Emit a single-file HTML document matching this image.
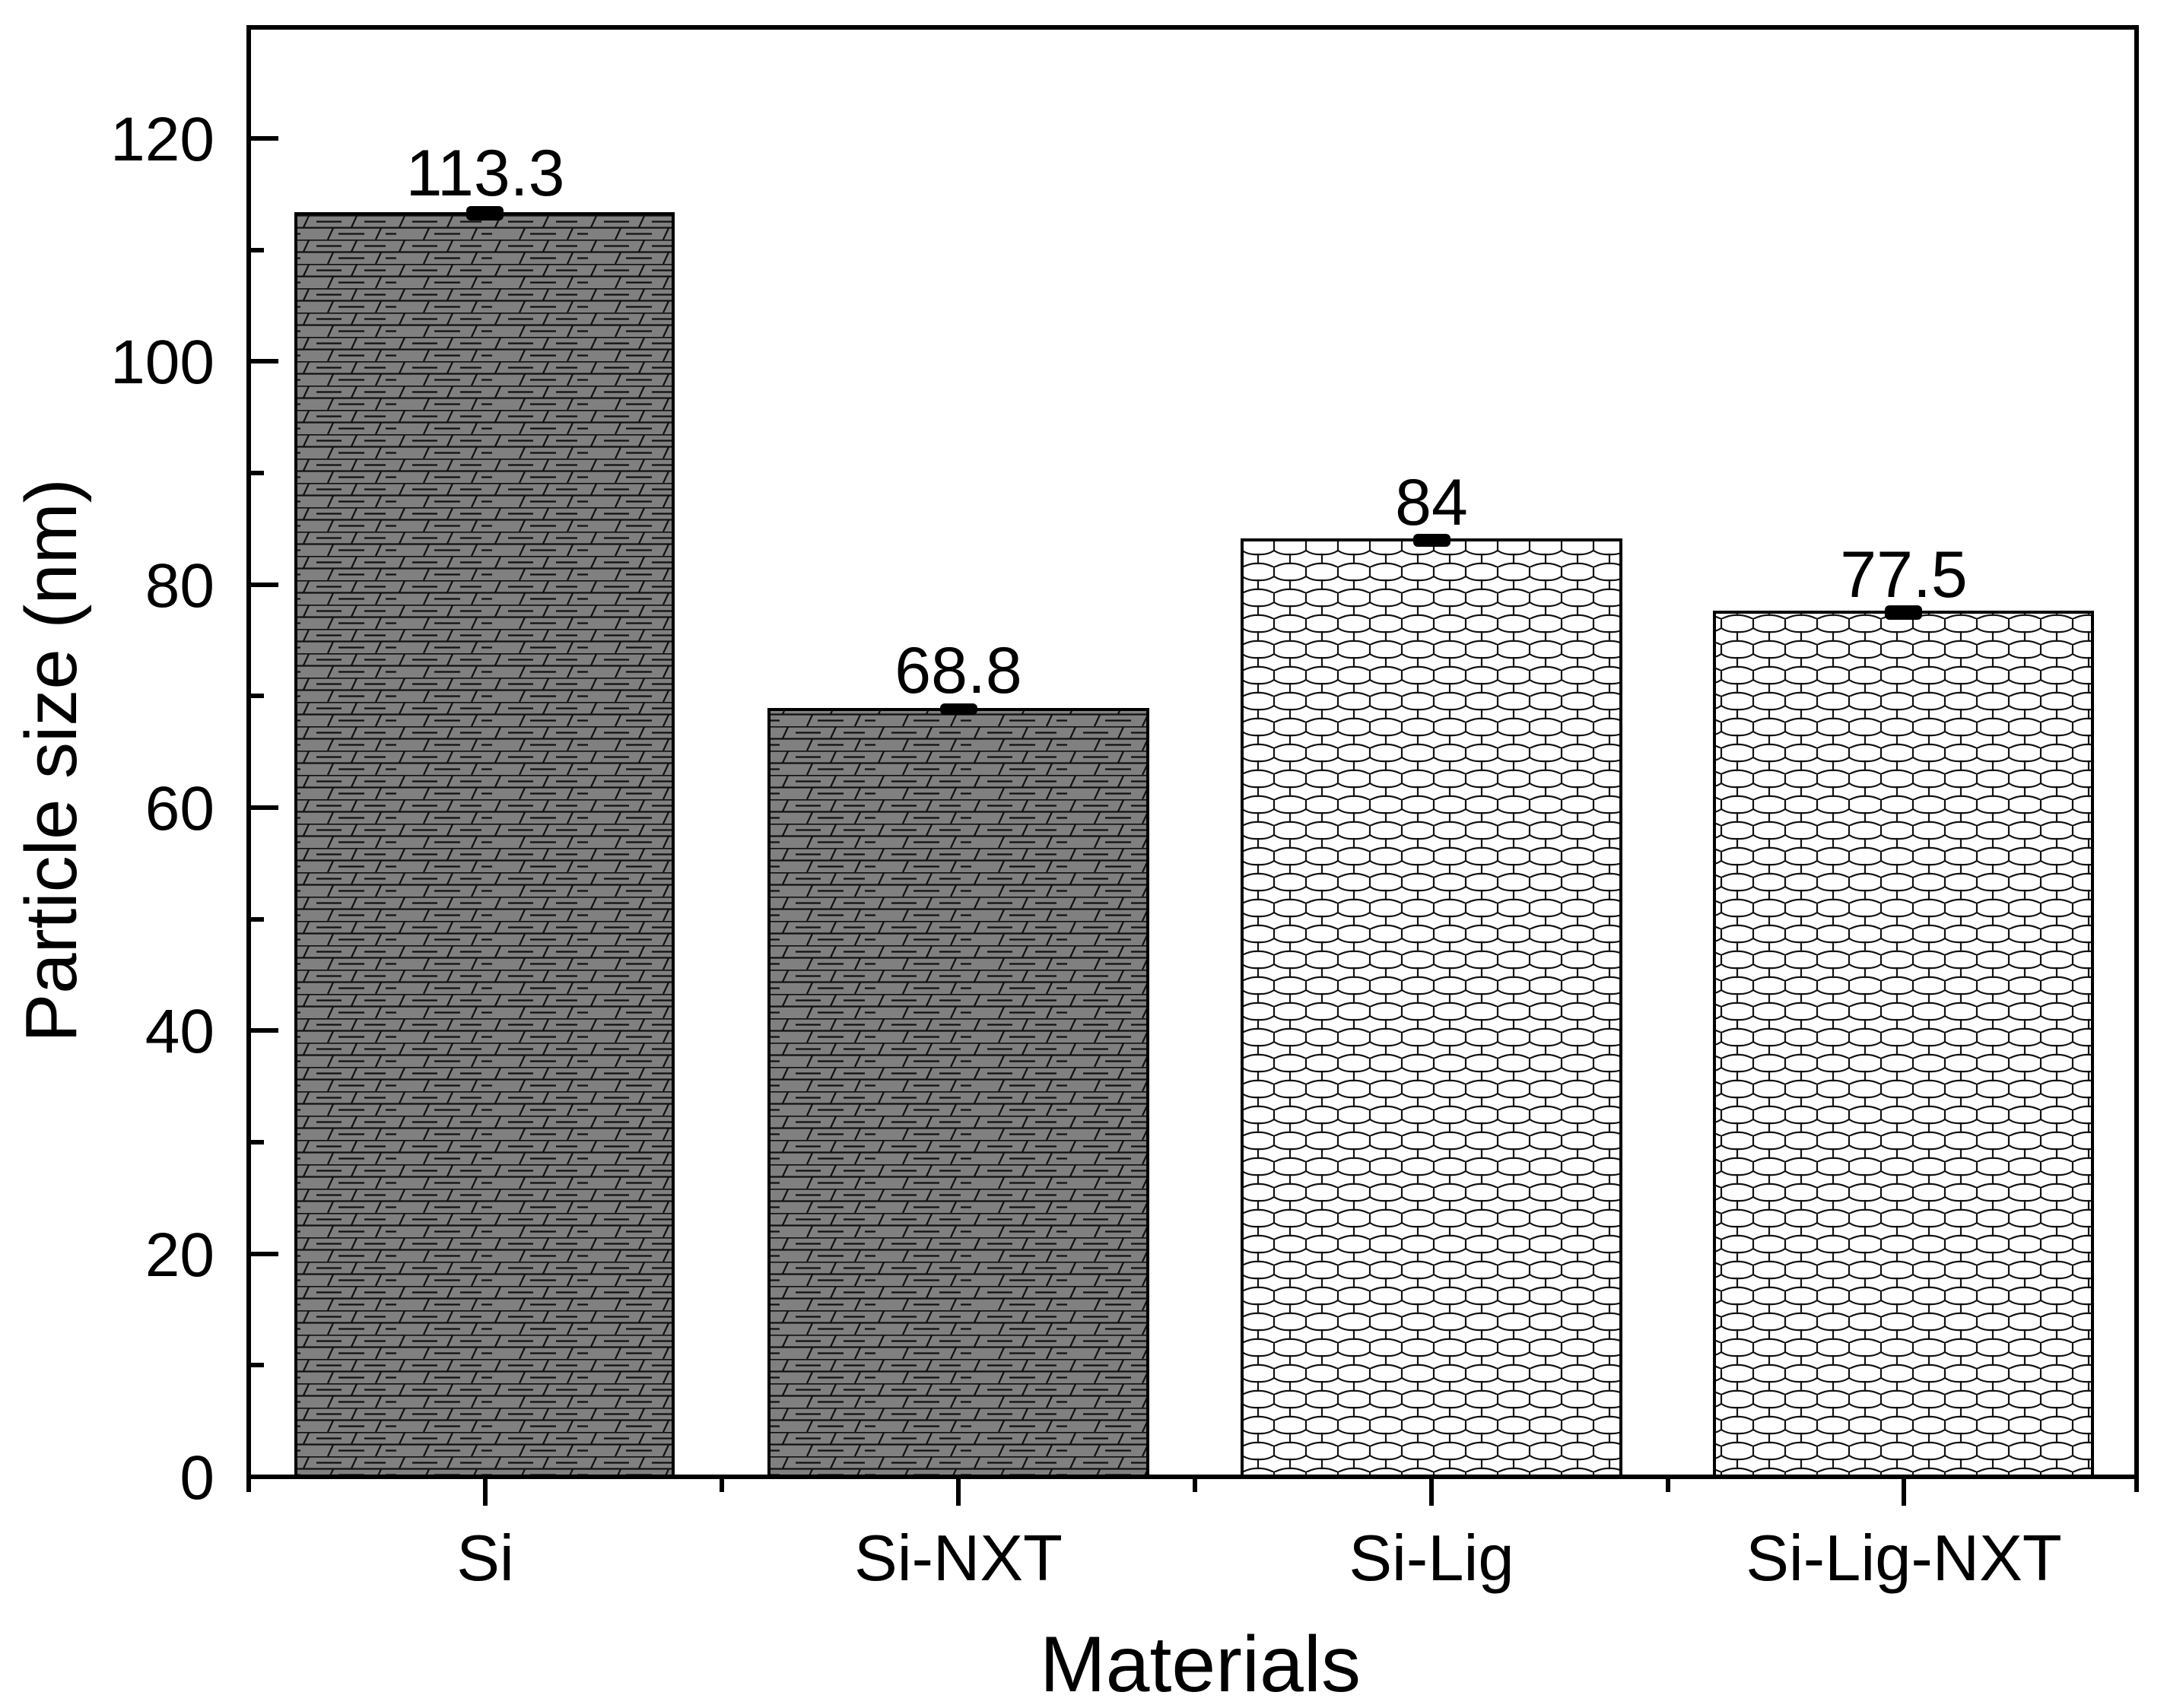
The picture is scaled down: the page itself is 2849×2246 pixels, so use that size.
<!DOCTYPE html>
<html><head><meta charset="utf-8"><style>
html,body{margin:0;padding:0;background:#fff}
svg{display:block}
text{font-family:"Liberation Sans",Arial,sans-serif;fill:#000}
</style></head><body>
<svg width="2849" height="2246" viewBox="0 0 2849 2246" xmlns="http://www.w3.org/2000/svg">
<defs>
<pattern id="brick" patternUnits="userSpaceOnUse" width="126" height="32" x="389" y="283">
<rect width="126" height="32" fill="#808080"/>
<g stroke="#111" stroke-width="2.2" fill="none">
<path d="M0,0.5H126M0,16.5H126"/>
<path d="M10,16 L17,1 M73,16 L80,1 M42,32 L49,17 M105,32 L112,17"/>
<path d="M27,8.5H60 M90,8.5H118 M56,24.5H90 M0,24.5H6 M118,24.5H126"/>
</g>
</pattern>
<pattern id="hex" patternUnits="userSpaceOnUse" width="42" height="34" x="1633" y="712">
<rect width="42" height="34" fill="#fff"/>
<g stroke="#111" stroke-width="2.2" fill="none">
<path d="M0,0V12 M42,0V12 M0,12 Q9,18 21,17 Q33,18 42,12 M21,17V29 M21,29 Q12,28 0,34 M21,29 Q30,28 42,34"/>
</g>
</pattern>
</defs>

<!-- bars -->
<rect x="389" y="281" width="496" height="1661" fill="url(#brick)" stroke="#000" stroke-width="4"/>
<rect x="1011" y="933" width="498" height="1009" fill="url(#brick)" stroke="#000" stroke-width="4"/>
<rect x="1633" y="710" width="498" height="1232" fill="url(#hex)" stroke="#000" stroke-width="4"/>
<rect x="2254" y="805" width="497" height="1137" fill="url(#hex)" stroke="#000" stroke-width="4"/>

<!-- error bars -->
<rect x="613" y="271" width="49" height="19" rx="6" fill="#000"/>
<rect x="1236" y="925" width="49" height="15" rx="6" fill="#000"/>
<rect x="1858" y="702" width="49" height="17" rx="6" fill="#000"/>
<rect x="2478" y="796" width="49" height="19" rx="6" fill="#000"/>

<!-- value labels -->
<g font-size="86" text-anchor="middle">
<text x="638" y="257">113.3</text>
<text x="1260" y="911">68.8</text>
<text x="1882" y="690">84</text>
<text x="2503" y="785">77.5</text>
</g>

<!-- frame -->
<rect x="327" y="36" width="2482" height="1906" fill="none" stroke="#000" stroke-width="6"/>

<g stroke="#000" stroke-width="6">
<path d="M327,1942H366 M327,1649H366 M327,1355H366 M327,1062H366 M327,769H366 M327,475H366 M327,182H366"/>
<path d="M327,1795H347 M327,1502H347 M327,1209H347 M327,915H347 M327,622H347 M327,329H347 M327,36H347"/>
<path d="M638,1942V1980 M1260,1942V1980 M1882,1942V1980 M2503,1942V1980"/>
<path d="M327,1942V1962 M949,1942V1962 M1571,1942V1962 M2193,1942V1962 M2809,1942V1962"/>
</g>

<g font-size="82" text-anchor="end">
<text x="282" y="1971">0</text>
<text x="282" y="1678">20</text>
<text x="282" y="1384">40</text>
<text x="282" y="1091">60</text>
<text x="282" y="798">80</text>
<text x="282" y="504">100</text>
<text x="282" y="211">120</text>
</g>
<g font-size="85" text-anchor="middle">
<text x="638" y="2078">Si</text>
<text x="1260" y="2078">Si-NXT</text>
<text x="1882" y="2078">Si-Lig</text>
<text x="2503" y="2078">Si-Lig-NXT</text>
</g>
<text x="1578" y="2224" font-size="104" text-anchor="middle">Materials</text>
<text transform="translate(100,1000) rotate(-90)" font-size="96" text-anchor="middle">Particle size (nm)</text>
</svg>
</body></html>
